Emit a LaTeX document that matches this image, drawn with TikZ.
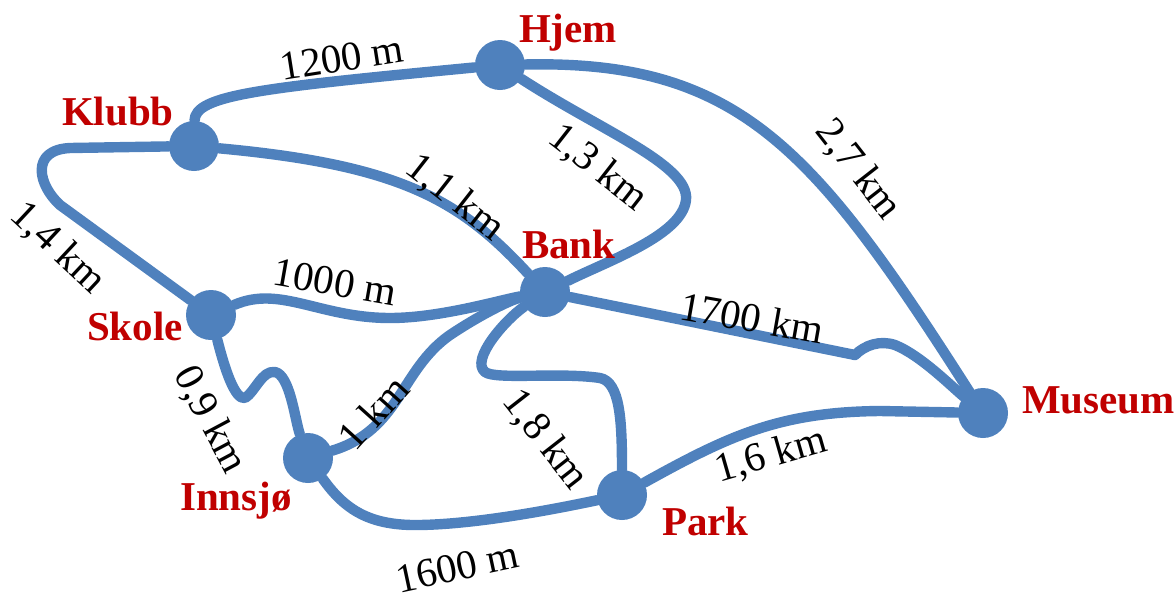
\documentclass[tikz,border=0pt]{standalone}
\usepackage{fontspec}
\setmainfont{Liberation Serif}
\usepackage{tikz}
\usepackage{xcolor}
\usetikzlibrary{backgrounds}
\definecolor{roadblue}{RGB}{79,129,189}
\definecolor{placered}{RGB}{192,0,0}

\begin{document}
\begin{tikzpicture}[x=0.5pt,y=-0.5pt,
  every node/.style={font=\fontsize{20.5}{24}\selectfont},
  place/.style={circle,fill=roadblue,inner sep=0pt,minimum size=25pt},
  placename/.style={anchor=base west,text=placered,font=\fontsize{20.5}{24}\selectfont\bfseries},
  road/.style={draw=roadblue,line width=5.2pt,line cap=round,line join=round},
  dist/.style={inner sep=1pt}]
\useasboundingbox (0,0) rectangle (1174,595);
\node[place] (hjem) at (500,65) {};
\node[place] (klubb) at (194,146) {};
\node[place] (bank) at (545,292) {};
\node[place] (skole) at (211,315) {};
\node[place] (innsjo) at (308,458) {};
\node[place] (park) at (622,495) {};
\node[place] (museum) at (983,413) {};
\node[placename] (hjemname) at (512,42) {Hjem};
\node[placename] (klubbname) at (55,125) {Klubb};
\node[placename] (bankname) at (515,258) {Bank};
\node[placename] (skolename) at (80,340) {Skole};
\node[placename] (innsjoname) at (173,510) {Innsjø};
\node[placename] (parkname) at (655,535) {Park};
\node[placename] (museumname) at (1015,413) {Museum};
\begin{pgfonlayer}{background}
\draw[road] (klubb) .. controls (195,95) and (260,88) .. (hjem);
\draw[road] (hjem) .. controls (740,60) and (815,150) .. (museum);
\draw[road] (hjem) .. controls (600,130) and (690,165) .. (686,200) .. controls (682,235) and (610,260) .. (bank);
\draw[road] (klubb) .. controls (400,165) and (460,200) .. (bank);
\draw[road] (klubb) -- (70,148) .. controls (30,150) and (38,185) .. (60,205) -- (skole);
\draw[road] (skole) .. controls (280,285) and (320,318) .. (390,318) .. controls (440,318) and (500,300) .. (bank);
\draw[road] (skole) .. controls (225,370) and (235,400) .. (245,398) .. controls (255,392) and (262,370) .. (275,372) .. controls (290,375) and (295,420) .. (innsjo);
\draw[road] (innsjo) .. controls (400,430) and (400,370) .. (450,335) .. controls (480,315) and (510,300) .. (bank);
\draw[road] (innsjo) .. controls (345,510) and (370,526) .. (420,525) .. controls (480,524) and (560,508) .. (park);
\draw[road] (bank) .. controls (505,320) and (470,360) .. (485,372) .. controls (495,380) and (560,372) .. (600,378) .. controls (620,382) and (622,420) .. (park);
\draw[road] (bank) -- (855,355) .. controls (865,345) and (880,340) .. (895,345) .. controls (920,355) and (950,385) .. (museum);
\draw[road] (park) .. controls (730,435) and (780,412) .. (880,411) -- (museum);
\end{pgfonlayer}
\node[dist,rotate=9] (d1200) at (342,58) {1200 m};
\node[dist,rotate=-52] (d27) at (858,170) {2,7 km};
\node[dist,rotate=-38] (d13) at (598,168) {1,3 km};
\node[dist,rotate=-38] (d11) at (455,198) {1,1 km};
\node[dist,rotate=-43] (d14) at (58,248) {1,4 km};
\node[dist,rotate=-10] (d1000) at (335,282) {1000 m};
\node[dist,rotate=-62] (d09) at (210,420) {0,9 km};
\node[dist,rotate=48] (d1) at (373,412) {1 km};
\node[dist,rotate=12] (d1600) at (457,567) {1600 m};
\node[dist,rotate=-52] (d18) at (545,440) {1,8 km};
\node[dist,rotate=-10] (d1700) at (752,318) {1700 km};
\node[dist,rotate=16] (d16) at (771,456) {1,6 km};
\end{tikzpicture}
\end{document}
